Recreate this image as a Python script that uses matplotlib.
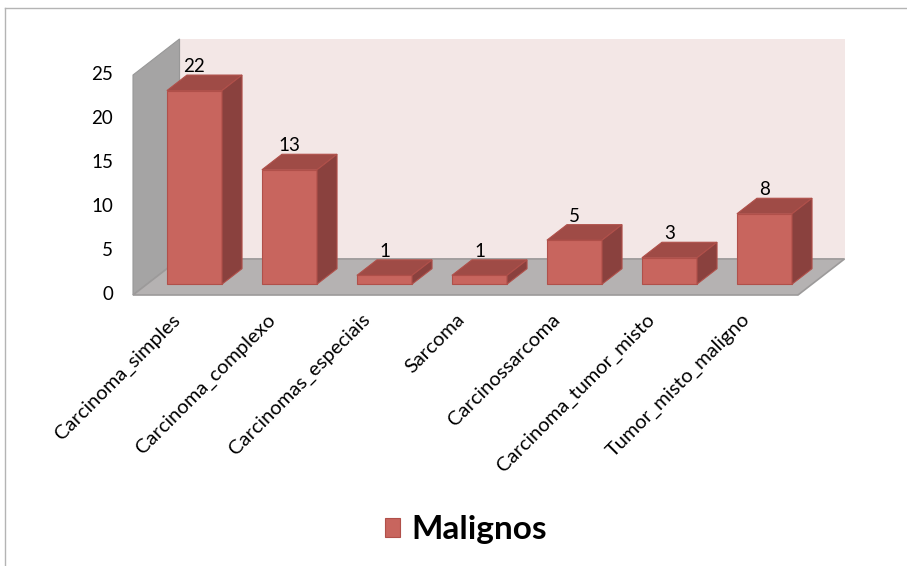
import matplotlib
matplotlib.use("Agg")
import matplotlib.pyplot as plt
from matplotlib.patches import Polygon
from matplotlib.lines import Line2D

plt.rcParams['font.family'] = ['Lato', 'DejaVu Sans']

# ---------------------------
# Dados
# ---------------------------
categorias = ['Carcinoma_simples', 'Carcinoma_complexo', 'Carcinomas_especiais',
              'Sarcoma', 'Carcinossarcoma', 'Carcinoma_tumor_misto',
              'Tumor_misto_maligno']
malignos = [22, 13, 1, 1, 5, 3, 8]
yticks = [0, 5, 10, 15, 20, 25]
serie = 'Malignos'

# ---------------------------
# Geometria 3D (em unidades de dados)
# ---------------------------
px_x, px_y = 95.0, 8.8          # pixels por unidade
x0_px, y0_px = 180.5, 295.0     # origem (categoria 0, valor 0) em pixels
depth_x, depth_y = 0.49, 4.1    # profundidade total do piso
f_front, f_depth = 0.30, 0.43   # posição/profundidade das barras
bar_w = 0.58
y_max = 25

cor_frente = '#C8655E'
cor_topo = '#9F4B46'
cor_lado = '#8A413E'
cor_borda = '#B0504A'

fig = plt.figure(figsize=(9.07, 5.66), dpi=100)
ax = fig.add_axes([0, 0, 1, 1])
ax.set_xlim(-x0_px / px_x, (907 - x0_px) / px_x)
ax.set_ylim((y0_px - 566) / px_y, y0_px / px_y)
ax.axis('off')

n = len(categorias)
xl, xr = -0.5, n - 0.5

# paredes e piso
ax.add_patch(Polygon([(xl + depth_x, depth_y), (xr + depth_x, depth_y),
                      (xr + depth_x, y_max + depth_y), (xl + depth_x, y_max + depth_y)],
                     closed=True, fc='#F3E7E6', ec='none'))
ax.add_patch(Polygon([(xl, 0), (xl, y_max), (xl + depth_x, y_max + depth_y),
                      (xl + depth_x, depth_y)],
                     closed=True, fc='#A5A4A4', ec='#989898', lw=0.8))
ax.add_patch(Polygon([(xl, 0), (xr, 0), (xr + depth_x, depth_y), (xl + depth_x, depth_y)],
                     closed=True, fc='#B5B2B2', ec='#9C9A9A', lw=1.2))

# barras
ox, oy = f_front * depth_x, f_front * depth_y
dx, dy = f_depth * depth_x, f_depth * depth_y
for i, v in enumerate(malignos):
    a = i - bar_w / 2 + ox
    b = i + bar_w / 2 + ox
    frente = Polygon([(a, oy), (b, oy), (b, oy + v), (a, oy + v)], closed=True,
                     fc=cor_frente, ec=cor_borda, lw=0.8, zorder=3)
    topo = Polygon([(a, oy + v), (b, oy + v), (b + dx, oy + v + dy), (a + dx, oy + v + dy)],
                   closed=True, fc=cor_topo, ec=cor_borda, lw=0.8, zorder=3)
    lado = Polygon([(b, oy), (b + dx, oy + dy), (b + dx, oy + v + dy), (b, oy + v)],
                   closed=True, fc=cor_lado, ec=cor_borda, lw=0.8, zorder=3)
    for p in (frente, topo, lado):
        ax.add_patch(p)
    if i == 0:
        handle = frente
    ax.text(i + ox, oy + dy + v, str(v), ha='center', va='bottom',
            fontsize=13.5, color='black', zorder=4)

# eixo y
for t in yticks:
    ax.text(-0.71, t, str(t), ha='right', va='center', fontsize=13.5)

# rótulos das categorias
for i, c in enumerate(categorias):
    ax.text(i - 0.1, -1.8, c, rotation=45, ha='right', va='top',
            rotation_mode='anchor', fontsize=14.5)

# legenda
leg = ax.legend(handles=[handle], labels=[serie], loc='center',
                bbox_to_anchor=(466 / 907, 1 - 530 / 566),
                bbox_transform=fig.transFigure, frameon=False,
                prop={'size': 24, 'weight': 'bold'},
                handlelength=0.45, handleheight=0.5, handletextpad=0.35)

# moldura
fig.add_artist(Line2D([5 / 907, 5 / 907], [0, 1 - 8 / 566], transform=fig.transFigure,
                      color='#B4B4B4', lw=1))
fig.add_artist(Line2D([5 / 907, 1], [1 - 8 / 566, 1 - 8 / 566], transform=fig.transFigure,
                      color='#B4B4B4', lw=1))

fig.savefig('out.png', dpi=100)
